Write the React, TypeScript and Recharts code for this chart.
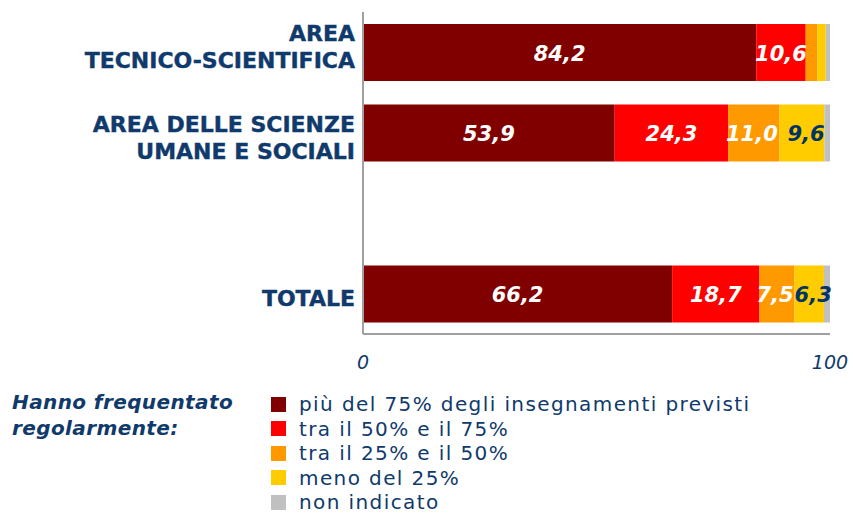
import React from "react";
import { BarChart, Bar, XAxis, YAxis, LabelList } from "recharts";

const categories = ["AREA|TECNICO-SCIENTIFICA", "AREA DELLE SCIENZE|UMANE E SOCIALI", "", "TOTALE"];
const over75 = [84.2, 53.9, null, 66.2];
const from50to75 = [10.6, 24.3, null, 18.7];
const from25to50 = [2.5, 11.0, null, 7.5];
const under25 = [1.8, 9.6, null, 6.3];
const notIndicated = [0.9, 1.2, null, 1.3];
const xTicks = [0, 100];

const seriesNames = [
  "più del 75% degli insegnamenti previsti",
  "tra il 50% e il 75%",
  "tra il 25% e il 50%",
  "meno del 25%",
  "non indicato",
];
const seriesKeys = ["s1", "s2", "s3", "s4", "s5"];
const seriesColors = ["#800000", "#FF0000", "#FF9900", "#FFCC00", "#C0C0C0"];
const labelColors = ["#FFFFFF", "#FFFFFF", "#FFFFFF", "#003366", null];
const labelDx = [0, 0, -2, 4, 0];
const legendTitle = ["Hanno frequentato", "regolarmente:"];

const seriesValues = [over75, from50to75, from25to50, under25, notIndicated];
const data = categories.map((name, i) => {
  const row: any = { name };
  seriesKeys.forEach((k, j) => {
    row[k] = seriesValues[j][i];
  });
  return row;
});

const BLUE = "#0F3A6B";
const FONT = "'DejaVu Sans', Verdana, sans-serif";
const labelShift = [-5.5, 5.5, 0, 4.5];

const YTick = (props: any) => {
  const { y, payload, index } = props;
  const lines = String(payload.value).split("|").filter((s) => s.length > 0);
  const lh = 27;
  const start = y + (labelShift[index] || 0) - ((lines.length - 1) * lh) / 2;
  return (
    <g>
      {lines.map((l, i) => (
        <text
          key={i}
          x={355}
          y={start + i * lh}
          textAnchor="end"
          dominantBaseline="central"
          fill={BLUE}
          fontFamily={FONT}
          fontWeight="bold"
          fontSize={22}
          stroke={BLUE}
          strokeWidth={0.4}
        >
          {l}
        </text>
      ))}
    </g>
  );
};

const XTick = (props: any) => {
  const { x, payload } = props;
  return (
    <text
      x={x}
      y={362}
      textAnchor="middle"
      dominantBaseline="central"
      fill={BLUE}
      fontFamily={FONT}
      fontStyle="italic"
      fontSize={19}
    >
      {payload.value}
    </text>
  );
};

const makeLabel = (color: string | null, dx: number) => (props: any) => {
  const { x, y, width, height, value } = props;
  if (!color || value == null || value < 5) return null;
  return (
    <text
      x={x + width / 2 + dx}
      y={y + height / 2 + 1}
      textAnchor="middle"
      dominantBaseline="central"
      fill={color}
      fontFamily={FONT}
      fontWeight="bold"
      fontStyle="italic"
      fontSize={21}
    >
      {Number(value).toFixed(1).replace(".", ",")}
    </text>
  );
};

export default function App() {
  return (
    <div style={{ position: "absolute", left: 0, top: 0, width: 853, height: 513, background: "#fff" }}>
      <BarChart
        width={853}
        height={513}
        data={data}
        layout="vertical"
        margin={{ top: 12, right: 23, left: 0, bottom: 139 }}
        barSize={57}
      >
        <XAxis
          type="number"
          domain={[0, 100]}
          ticks={xTicks}
          height={40}
          axisLine={{ stroke: "#A0A0A0", strokeWidth: 2 }}
          tickLine={false}
          tick={<XTick />}
          interval={0}
        />
        <YAxis
          type="category"
          dataKey="name"
          width={363}
          axisLine={{ stroke: "#A0A0A0", strokeWidth: 2 }}
          tickLine={false}
          tick={<YTick />}
          interval={0}
        />
        {seriesKeys.map((k, j) => (
          <Bar key={k} dataKey={k} stackId="a" fill={seriesColors[j]} isAnimationActive={false}>
            <LabelList dataKey={k} content={makeLabel(labelColors[j], labelDx[j])} />
          </Bar>
        ))}
      </BarChart>
      <div style={{ position: "absolute", left: 12, top: 389, fontFamily: FONT, color: BLUE }}>
        {legendTitle.map((t, i) => (
          <div
            key={i}
            style={{ fontSize: 20, fontWeight: "bold", fontStyle: "italic", lineHeight: "26px", height: 26, letterSpacing: 0.4, whiteSpace: "nowrap" }}
          >
            {t}
          </div>
        ))}
      </div>
      <div style={{ position: "absolute", left: 271, top: 392, fontFamily: FONT, color: BLUE }}>
        {seriesNames.map((n, j) => (
          <div key={n} style={{ display: "flex", alignItems: "center", height: 24.5 }}>
            <div style={{ width: 15, height: 15, background: seriesColors[j], marginRight: 13 }} />
            <span style={{ fontSize: 20, letterSpacing: 1.4, lineHeight: "24px", whiteSpace: "nowrap" }}>{n}</span>
          </div>
        ))}
      </div>
    </div>
  );
}
